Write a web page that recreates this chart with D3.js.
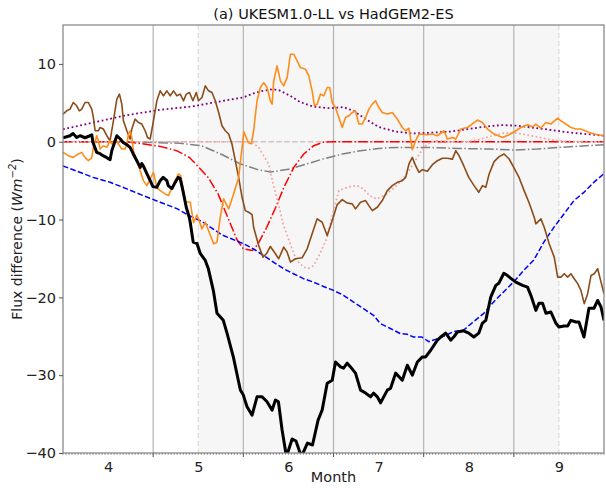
<!DOCTYPE html>
<html><head><meta charset="utf-8">
<script src="https://cdn.jsdelivr.net/npm/d3@7"></script>
<style>body{margin:0;background:#fff;} svg{display:block;font-family:"DejaVu Sans",sans-serif;}</style>
</head><body><svg id="c" width="606" height="488"></svg>
<script>
// ---------------- data ----------------
const title = "(a) UKESM1.0-LL vs HadGEM2-ES";
const xTicks = [4,5,6,7,8,9];
const yTicks = [-40,-30,-20,-10,0,10];
const gridMonths = [4.5,5.5,6.5,7.5,8.5];
const seasonEdges = [5,9];

const blackM = [3.5,3.578,3.611,3.652,3.689,3.744,3.8,3.819,3.833,3.874,3.911,3.944,3.986,4.022,4.041,4.097,4.133,4.167,4.208,4.244,4.278,4.319,4.356,4.374,4.389,4.43,4.467,4.497,4.541,4.578,4.611,4.652,4.667,4.708,4.744,4.778,4.8,4.83,4.867,4.9,4.911,4.944,4.986,5.022,5.078,5.111,5.167,5.208,5.278,5.319,5.389,5.467,5.5,5.541,5.597,5.652,5.708,5.763,5.819,5.856,5.889,5.93,5.978,6.041,6.084,6.144,6.211,6.267,6.329,6.374,6.43,6.486,6.522,6.578,6.611,6.652,6.689,6.744,6.8,6.856,6.911,6.944,6.986,7.022,7.097,7.133,7.189,7.263,7.319,7.374,7.43,7.486,7.522,7.578,7.652,7.689,7.744,7.8,7.833,7.874,7.944,8.0,8.056,8.111,8.152,8.189,8.244,8.3,8.333,8.389,8.43,8.467,8.522,8.597,8.652,8.689,8.744,8.778,8.819,8.856,8.911,8.967,9.0,9.056,9.097,9.133,9.189,9.222,9.278,9.333,9.389,9.43,9.467,9.5];
const blackV = [0.51,0.77,1.06,0.55,0.77,0.51,0.77,0.9,-0.09,-1.37,-1.54,-1.79,-2.05,-2.31,-1.15,0.77,0.38,-0.09,-0.38,-0.73,-1.54,-2.44,-3.29,-2.82,-3.08,-4.1,-5.0,-5.77,-5.86,-5.0,-4.58,-5.0,-5.64,-6.03,-5.22,-4.58,-4.74,-6.28,-8.42,-9.7,-10.35,-12.9,-13.08,-14.36,-15.26,-16.28,-19.1,-22.05,-22.95,-24.6,-27.65,-31.9,-32.56,-34.06,-35.13,-32.78,-32.78,-33.42,-34.49,-33.2,-33.42,-37.05,-40.47,-38.2,-38.46,-40.47,-38.72,-38.97,-35.77,-34.49,-31.03,-30.64,-28.3,-28.94,-29.1,-28.46,-28.94,-29.74,-31.92,-32.3,-32.78,-32.3,-32.78,-33.55,-31.92,-31.67,-29.74,-30.64,-28.72,-30.0,-28.3,-27.65,-27.65,-26.8,-25.5,-25.1,-24.6,-25.5,-25.1,-24.45,-24.3,-24.6,-25.1,-24.6,-23.3,-22.95,-19.96,-18.46,-18.2,-16.9,-17.2,-17.56,-18.04,-18.46,-18.68,-19.74,-21.67,-20.77,-20.77,-22.05,-21.88,-23.33,-23.8,-23.68,-23.68,-22.95,-23.17,-23.17,-25.1,-21.4,-21.4,-20.4,-21.24,-22.95];

const orangeM = [3.5,3.559,3.614,3.67,3.708,3.744,3.781,3.819,3.837,3.874,3.892,3.911,3.948,3.986,4.022,4.041,4.078,4.114,4.152,4.189,4.208,4.226,4.244,4.263,4.281,4.319,4.356,4.392,4.43,4.467,4.503,4.541,4.578,4.633,4.67,4.708,4.744,4.781,4.806,4.856,4.911,4.948,4.986,5.041,5.078,5.114,5.17,5.208,5.244,5.281,5.337,5.392,5.448,5.506,5.556,5.589,5.614,5.652,5.689,5.726,5.763,5.8,5.819,5.837,5.874,5.911,5.948,5.986,6.022,6.059,6.097,6.133,6.189,6.226,6.263,6.289,6.319,6.356,6.392,6.43,6.459,6.486,6.522,6.559,6.597,6.633,6.67,6.708,6.744,6.781,6.819,6.856,6.892,6.93,6.967,7.003,7.041,7.097,7.152,7.208,7.263,7.3,7.337,7.374,7.411,7.448,7.541,7.597,7.652,7.726,7.763,7.819,7.856,7.911,7.986,8.097,8.152,8.208,8.281,8.374,8.448,8.522,8.578,8.652,8.708,8.744,8.8,8.856,8.911,8.986,9.022,9.078,9.133,9.189,9.244,9.337,9.392,9.5];
const orangeV = [-1.37,-1.79,-2.01,-1.58,-1.37,-2.01,-2.44,-2.09,-0.73,0.77,0.13,-0.94,-0.51,-0.73,0.13,-0.29,0.35,-0.29,-0.94,-0.94,-0.29,0.99,1.41,0.55,-1.15,-2.44,-3.72,-5.0,-5.64,-4.78,-3.94,-5.86,-6.28,-6.71,-6.92,-5.86,-5.0,-4.14,-4.36,-7.7,-7.78,-10.4,-9.4,-11.19,-10.35,-11.41,-13.12,-12.91,-9.7,-7.35,-8.63,-6.71,-4.58,1.28,-0.13,-0.26,1.41,5.26,6.96,7.6,6.96,5.26,4.83,7.82,9.74,7.82,7.18,8.24,11.24,11.24,10.38,9.53,9.32,8.46,6.54,4.62,4.83,6.12,5.9,6.96,6.96,5.04,4.4,3.12,1.83,3.12,3.33,3.76,3.97,2.27,2.27,3.12,4.19,4.83,5.26,4.4,3.76,3.55,3.76,2.91,1.83,1.41,1.73,-1.03,0.13,0.99,0.9,0.99,0.77,1.41,0.35,0.55,0.35,1.63,1.83,2.78,2.47,1.63,0.99,0.55,0.9,1.41,1.83,2.18,1.92,2.27,1.76,2.47,2.27,3.04,2.69,2.27,1.83,1.63,1.63,1.19,0.99,0.77];

const brownM = [3.5,3.541,3.578,3.614,3.652,3.681,3.708,3.744,3.781,3.819,3.837,3.856,3.892,3.911,3.948,3.986,4.022,4.059,4.097,4.126,4.152,4.17,4.208,4.244,4.263,4.3,4.337,4.374,4.411,4.437,4.467,4.503,4.541,4.578,4.614,4.652,4.689,4.726,4.763,4.8,4.837,4.867,4.903,4.941,4.978,5.003,5.041,5.078,5.114,5.152,5.189,5.226,5.263,5.3,5.337,5.374,5.411,5.448,5.486,5.522,5.559,5.597,5.614,5.67,5.719,5.756,5.8,5.856,5.892,5.948,5.986,6.022,6.078,6.152,6.208,6.263,6.319,6.374,6.43,6.486,6.541,6.597,6.652,6.708,6.744,6.8,6.856,6.892,6.93,6.986,7.041,7.097,7.152,7.208,7.263,7.3,7.337,7.374,7.411,7.448,7.486,7.541,7.597,7.652,7.708,7.763,7.819,7.856,7.892,7.944,8.0,8.059,8.111,8.152,8.189,8.226,8.281,8.337,8.392,8.448,8.503,8.559,8.614,8.67,8.726,8.744,8.8,8.837,8.892,8.948,8.986,9.022,9.059,9.097,9.133,9.17,9.208,9.244,9.281,9.319,9.356,9.392,9.43,9.467,9.5];
const brownV = [3.55,3.97,4.19,5.04,4.62,3.97,4.19,5.04,5.04,4.19,3.12,1.41,1.41,1.83,1.63,0.77,0.13,2.69,5.47,6.12,4.83,2.69,1.41,0.35,1.63,2.91,2.47,2.27,1.41,0.55,0.35,2.69,5.26,6.54,5.9,6.54,5.9,6.54,5.9,6.12,5.26,6.12,6.32,5.26,6.32,5.26,5.68,7.18,6.54,6.32,5.26,3.76,2.05,1.41,0.99,-0.29,-2.44,-4.58,-7.14,-8.85,-9.06,-9.36,-10.99,-13.33,-14.83,-14.4,-13.46,-14.4,-15.04,-13.55,-14.19,-15.47,-15.04,-14.91,-13.76,-11.83,-9.91,-10.35,-12.05,-10.13,-8.08,-7.44,-7.88,-7.99,-8.63,-7.78,-7.56,-8.21,-8.85,-8.42,-7.56,-6.28,-5.64,-5.22,-5.0,-4.58,-2.86,-2.01,-3.08,-3.94,-3.59,-3.78,-2.95,-2.44,-2.12,-2.12,-2.24,-1.15,-1.79,-3.08,-4.58,-5.64,-6.5,-5.64,-5.86,-4.14,-2.56,-1.92,-1.58,-2.22,-3.4,-4.62,-6.28,-7.88,-9.71,-10.55,-9.91,-10.99,-13.12,-14.83,-17.4,-17.4,-16.96,-17.4,-16.96,-17.6,-18.24,-19.1,-20.81,-19.53,-17.18,-16.96,-16.32,-18.04,-19.53];

const blueM = [3.5,3.833,4.022,4.208,4.389,4.578,4.763,4.9,5.041,5.263,5.5,5.611,5.722,5.833,5.944,6.056,6.167,6.278,6.389,6.5,6.611,6.722,6.833,6.944,7.019,7.13,7.241,7.315,7.389,7.481,7.556,7.63,7.722,7.833,7.944,8.056,8.167,8.278,8.389,8.5,8.611,8.722,8.833,8.944,9.056,9.167,9.278,9.389,9.5];
const blueV = [-3.1,-4.58,-5.2,-6.06,-6.92,-7.78,-8.6,-9.5,-10.26,-11.97,-13.1,-13.76,-14.6,-15.47,-16.3,-16.96,-17.6,-18.04,-18.6,-19.1,-19.74,-20.6,-21.45,-22.3,-23.37,-24.0,-24.65,-24.74,-25.1,-25.1,-25.7,-25.4,-25.0,-24.4,-24.2,-23.1,-22.05,-20.56,-19.27,-17.99,-16.5,-15.2,-12.9,-11.0,-9.28,-7.56,-6.5,-5.2,-4.1];

const redM = [3.5,4.2,4.4,4.578,4.76,4.9,5.0,5.11,5.22,5.33,5.43,5.5,5.6,5.66,5.76,5.86,5.95,6.06,6.17,6.28,6.39,6.5,9.5];
const redV = [0,0,-0.3,-0.6,-1.15,-2.0,-3.2,-4.6,-6.7,-9.8,-12.6,-13.76,-13.97,-13.2,-10.99,-8.42,-5.86,-3.29,-1.58,-0.51,-0.05,0.0,0.0];

const grayM = [3.5,4.2,4.5,4.8,5.03,5.25,5.47,5.65,5.8,6.0,6.2,6.39,6.6,6.8,7.0,7.2,7.5,7.87,8.24,8.5,8.76,9.0,9.5];
const grayV = [0,0,-0.1,-0.2,-0.5,-1.58,-2.86,-3.55,-3.9,-3.55,-2.86,-2.2,-1.58,-1.15,-0.86,-0.73,-0.73,-0.86,-0.94,-1.06,-0.94,-0.73,-0.38];

const purpleM = [3.5,3.83,4.2,4.58,4.94,5.13,5.32,5.5,5.61,5.72,5.83,5.9,6.02,6.13,6.28,6.46,6.61,6.72,6.86,7.0,7.19,7.37,7.56,7.8,7.99,8.17,8.36,8.55,8.74,8.92,9.11,9.3,9.5];
const purpleV = [1.6,2.45,3.4,4.1,4.55,4.95,5.35,5.7,6.2,6.55,6.75,6.6,5.9,5.1,4.5,4.3,4.45,3.97,2.9,1.9,1.3,1.06,1.15,1.3,1.63,1.92,2.14,2.05,1.76,1.5,1.19,0.99,0.77];

const pinkM = [3.5,5.5,5.6,5.67,5.78,5.83,5.89,5.94,6.02,6.09,6.17,6.22,6.28,6.35,6.43,6.5,6.56,6.65,6.76,6.83,6.9,6.98,7.09,7.2,7.28,7.35,7.43,7.5,7.57,7.65,7.76,7.94,8.09,8.24,8.39,8.54,8.72,8.91,9.09,9.5];
const pinkV = [0,0,-0.1,-0.73,-2.86,-5.4,-8.0,-10.55,-13.12,-15.26,-16.1,-16.3,-15.9,-14.4,-12.27,-8.85,-6.28,-5.86,-5.64,-6.06,-6.92,-7.35,-6.71,-5.64,-4.58,-3.5,-2.01,-0.73,-0.09,0.13,0.0,-0.05,0.2,0.7,1.1,1.1,0.7,0.25,0.04,-0.05];

// ---------------- chart ----------------
const svg = d3.select("#c");
const L=63, R=604, T=25, B=453;
const x = d3.scaleLinear().domain([3.5,9.5]).range([L,R]);
const y = d3.scaleLinear().domain([-40,15]).range([B,T]);

svg.append("defs").append("clipPath").attr("id","clip")
  .append("rect").attr("x",L).attr("y",T).attr("width",R-L).attr("height",B-T);

const plot = svg.append("g").attr("clip-path","url(#clip)");
plot.append("rect").attr("x",x(seasonEdges[0])).attr("y",T)
  .attr("width",x(seasonEdges[1])-x(seasonEdges[0])).attr("height",B-T).attr("fill","#f6f6f6");
plot.selectAll(".vg").data(gridMonths).enter().append("line")
  .attr("x1",d=>x(d)).attr("x2",d=>x(d)).attr("y1",T).attr("y2",B)
  .attr("stroke","#b4b4b4").attr("stroke-width",1.2);
plot.selectAll(".se").data(seasonEdges).enter().append("line")
  .attr("x1",d=>x(d)).attr("x2",d=>x(d)).attr("y1",T).attr("y2",B)
  .attr("stroke","#d6d6d6").attr("stroke-width",1).attr("stroke-dasharray","5,3");
plot.append("line").attr("x1",L).attr("x2",R).attr("y1",y(0)).attr("y2",y(0))
  .attr("stroke","#cfc4c4").attr("stroke-width",1.5).attr("stroke-dasharray","5.5,2.4");

const line = d3.line().x(d=>x(d[0])).y(d=>y(d[1]));
function draw(ms, vs, color, w, dash){
  plot.append("path").datum(ms.map((m,i)=>[m,vs[i]]))
    .attr("d",line).attr("fill","none").attr("stroke",color)
    .attr("stroke-width",w).attr("stroke-dasharray",dash||null)
    .attr("stroke-linejoin","round");
}
draw(grayM, grayV, "#808080", 1.5, "9.6,2.4,1.5,2.4");
draw(redM, redV, "#ff0000", 1.5, "9.6,2.4,1.5,2.4");
draw(pinkM, pinkV, "#f4a0a0", 1.7, "1.7,2.5");
draw(purpleM, purpleV, "#800080", 1.8, "1.8,2.6");
draw(blueM, blueV, "#0000ff", 1.5, "5.55,2.4");
draw(brownM, brownV, "#8b4c1a", 1.6);
draw(orangeM, orangeV, "#ff8c1a", 1.6);
draw(blackM, blackV, "#000000", 3);

// frame
svg.append("rect").attr("x",L).attr("y",T).attr("width",R-L).attr("height",B-T)
  .attr("fill","none").attr("stroke","#808080").attr("stroke-width",1.2);

// y axis
const yAxis = svg.append("g").attr("transform",`translate(${L},0)`)
  .call(d3.axisLeft(y).tickValues(yTicks).tickSize(4).tickPadding(3)
    .tickFormat(d=>d3.format("")(d).replace("-","\u2212")));
yAxis.select(".domain").remove();
yAxis.selectAll("line").attr("stroke","#555");
yAxis.selectAll("text").attr("font-size","14.5px").attr("fill","#222").attr("font-family","DejaVu Sans");

// x axis
const xAxis = svg.append("g").attr("transform",`translate(0,${B})`)
  .call(d3.axisBottom(x).tickValues(xTicks).tickSize(0).tickPadding(9).tickFormat(d3.format("d")));
xAxis.select(".domain").remove();
xAxis.selectAll("text").attr("font-size","14.5px").attr("fill","#222").attr("font-family","DejaVu Sans");
const minor = d3.range(0,181).map(i=>3.5+i/30);
svg.append("g").selectAll("line").data(minor).enter().append("line")
  .attr("x1",d=>x(d)).attr("x2",d=>x(d)).attr("y1",B).attr("y2",B+2)
  .attr("stroke","#666").attr("stroke-width",0.6);
svg.append("g").selectAll("line").data(gridMonths).enter().append("line")
  .attr("x1",d=>x(d)).attr("x2",d=>x(d)).attr("y1",B).attr("y2",B+4)
  .attr("stroke","#555").attr("stroke-width",1);

// labels
svg.append("text").attr("x",(L+R)/2).attr("y",19).attr("text-anchor","middle")
  .attr("font-size","14.5px").attr("fill","#111").text(title);
svg.append("text").attr("x",(L+R)/2).attr("y",482).attr("text-anchor","middle")
  .attr("font-size","14.5px").attr("fill","#222").text("Month");
const yl = svg.append("text").attr("transform",`translate(22,${(T+B)/2}) rotate(-90)`)
  .attr("text-anchor","middle").attr("font-size","14px").attr("fill","#222");
yl.append("tspan").text("Flux difference (");
yl.append("tspan").attr("font-style","italic").text("Wm");
yl.append("tspan").attr("font-size","10px").attr("dy","-6").attr("font-style","italic").text("\u22122");
yl.append("tspan").attr("dy","6").text(")");
</script></body></html>
